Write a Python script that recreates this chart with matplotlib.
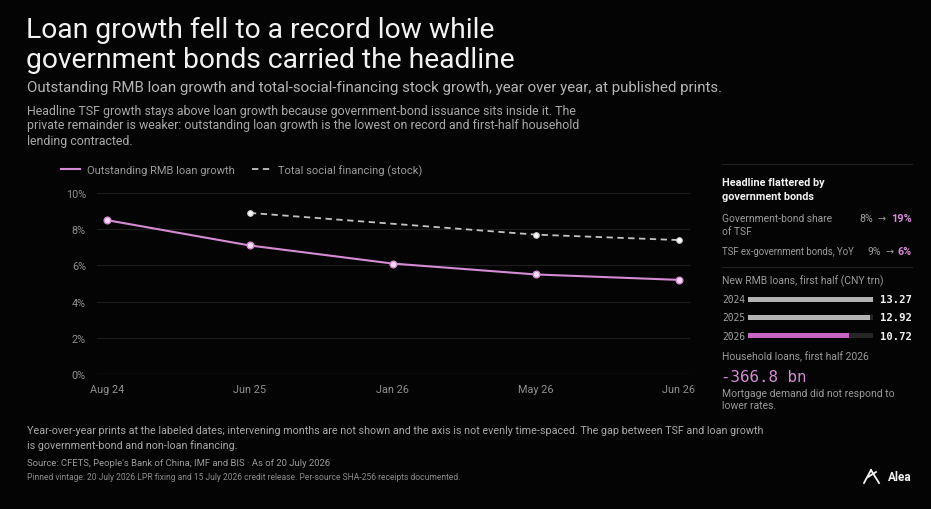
import matplotlib
matplotlib.use("Agg")
import matplotlib.pyplot as plt
from matplotlib.lines import Line2D
import numpy as np

# ---------------- data ----------------
dates = ["Aug 24", "Jun 25", "Jan 26", "May 26", "Jun 26"]
loan_growth = [8.5, 7.1, 6.1, 5.5, 5.2]
tsf_dates = ["Jun 25", "May 26", "Jun 26"]
tsf_growth = [8.9, 7.7, 7.4]
y_ticks = [0, 2, 4, 6, 8, 10]

bar_years = ["2024", "2025", "2026"]
new_loans = [13.27, 12.92, 10.72]

gov_share = ("8%", "19%")
tsf_ex_gov = ("9%", "6%")
household_loans = "-366.8 bn"

# ---------------- style ----------------
W, H = 931, 510
BG = "#040404"
PINK = "#d58bd4"
PINK_B = "#c665c3"
GRAY_TXT = "#9a9a9a"
WHITE = "#f2f2f2"
FONT = ["Roboto", "DejaVu Sans"]
MONO = ["DejaVu Sans Mono"]

plt.rcParams["font.family"] = FONT
fig = plt.figure(figsize=(W / 100, H / 100), dpi=100, facecolor=BG)


def fx(x):
    return x / W


def fy(y):
    return 1 - y / H


def T(x, y, s, size, color=WHITE, weight="normal", ha="left", va="center", family=None):
    fig.text(fx(x), fy(y), s, fontsize=size, color=color, weight=weight,
             ha=ha, va=va, family=family or FONT)


# ---------------- header ----------------
T(26, 30, "Loan growth fell to a record low while", 20.3, WHITE)
T(26, 60, "government bonds carried the headline", 20.3, WHITE)
T(27, 88, "Outstanding RMB loan growth and total-social-financing stock growth, year over year, at published prints.",
  10.8, "#b5b5b5")
T(27, 111, "Headline TSF growth stays above loan growth because government-bond issuance sits inside it. The", 8.9, "#a8a8a8")
T(27, 126, "private remainder is weaker: outstanding loan growth is the lowest on record and first-half household", 8.9, "#a8a8a8")
T(27, 141, "lending contracted.", 8.9, "#a8a8a8")

# ---------------- main chart ----------------
ax = fig.add_axes([fx(97), fy(375), fx(690) - fx(97), fy(194) - fy(375)])
ax.set_facecolor(BG)
x_loan = np.arange(len(dates))
x_tsf = [dates.index(d) for d in tsf_dates]

for t in y_ticks[1:]:
    ax.axhline(t, color="#1c1c1c", lw=0.8, zorder=0)
ax.axhline(0, color="#3a3a3a", lw=0.9, zorder=0)

ax.plot(x_loan, loan_growth, color=PINK, lw=1.5, marker="o", ms=4.8,
        mfc="#f5dcf4", mec=PINK, mew=1.0, zorder=3, label="Outstanding RMB loan growth")
ax.plot(x_tsf, tsf_growth, color="#c2c2c2", lw=1.3, dashes=(3.5, 2.5), marker="o", ms=4.0,
        mfc="#ffffff", mec="#d0d0d0", mew=0.8, zorder=2, label="Total social financing (stock)")

ax.set_xlim(-0.07, 4.08)
ax.set_ylim(0, 10)
ax.set_xticks(x_loan)
ax.set_xticklabels(dates)
ax.set_yticks(y_ticks)
ax.set_yticklabels([f"{t}%" for t in y_ticks])
ax.tick_params(axis="both", length=0, colors="#8f8f8f", labelsize=7.8)
ax.tick_params(axis="y", pad=8)
ax.tick_params(axis="x", pad=7)
for s in ax.spines.values():
    s.set_visible(False)

leg = fig.legend(handles=[Line2D([], [], color=PINK, lw=1.5),
                          Line2D([], [], color="#c2c2c2", lw=1.3, dashes=(3.5, 2.5))],
                 labels=["Outstanding RMB loan growth", "Total social financing (stock)"],
                 loc="center left", bbox_to_anchor=(fx(61), fy(171)), ncol=2, frameon=False,
                 fontsize=8.0, handlelength=1.7, handletextpad=0.6, columnspacing=1.6,
                 borderpad=0, borderaxespad=0)
for t in leg.get_texts():
    t.set_color("#9a9a9a")

# ---------------- sidebar ----------------
def sep(y):
    fig.add_artist(Line2D([fx(722), fx(912)], [fy(y), fy(y)], color="#232323", lw=0.8))


sep(165)
T(722, 183, "Headline flattered by", 7.8, WHITE, weight="bold")
T(722, 197, "government bonds", 7.8, WHITE, weight="bold")
T(722, 219, "Government-bond share", 7.4, GRAY_TXT)
T(722, 232, "of TSF", 7.4, GRAY_TXT)
T(873, 219, gov_share[0], 7.6, GRAY_TXT, ha="right")
T(882, 219, "→", 7.0, GRAY_TXT, ha="center")
T(912, 219, gov_share[1], 7.8, PINK, weight="bold", ha="right")
T(722, 252, "TSF ex-government bonds, YoY", 6.9, GRAY_TXT)
T(881, 252, tsf_ex_gov[0], 7.6, GRAY_TXT, ha="right")
T(890, 252, "→", 7.0, GRAY_TXT, ha="center")
T(912, 252, tsf_ex_gov[1], 7.8, PINK, weight="bold", ha="right")
sep(268)
T(722, 281, "New RMB loans, first half (CNY trn)", 7.5, GRAY_TXT)

bax = fig.add_axes([fx(748), fy(346), fx(873) - fx(748), fy(291) - fy(346)])
bax.set_facecolor("none")
ypos = np.arange(len(bar_years))
vmax = max(new_loans)
bax.barh(ypos, [vmax] * len(new_loans), height=0.26, color="#262626", zorder=1)
bar_cols = ["#b3b3b3", "#b3b3b3", PINK_B]
bax.barh(ypos, new_loans, height=0.26, color=bar_cols, zorder=2)
bax.set_xlim(0, vmax)
bax.set_ylim(len(bar_years) - 0.5, -0.5)
bax.axis("off")
for i, (yr, v) in enumerate(zip(bar_years, new_loans)):
    yy = [300, 318, 337][i]
    T(722, yy, yr, 6.9, "#a0a0a0", family=MONO)
    T(912, yy, f"{v:.2f}", 7.6, WHITE, weight="bold", ha="right", family=MONO)

T(722, 357, "Household loans, first half 2026", 7.5, GRAY_TXT)
T(721, 377, household_loans, 11.4, PINK, family=MONO)
T(722, 394, "Mortgage demand did not respond to", 7.5, GRAY_TXT)
T(722, 406, "lower rates.", 7.5, GRAY_TXT)

# ---------------- footer ----------------
T(27, 431, "Year-over-year prints at the labeled dates; intervening months are not shown and the axis is not evenly time-spaced. The gap between TSF and loan growth",
  7.75, "#a8a8a8")
T(27, 446, "is government-bond and non-loan financing.", 7.75, "#a8a8a8")
T(27, 464, "Source: CFETS, People's Bank of China, IMF and BIS · As of 20 July 2026", 6.8, "#9a9a9a")
T(27, 478, "Pinned vintage: 20 July 2026 LPR fixing and 15 July 2026 credit release. Per-source SHA-256 receipts documented.",
  6.15, "#8a8a8a")

# logo
for (x0, y0, x1, y1) in [(864, 484, 871, 471), (871, 471, 879, 484), (868, 478, 876, 473)]:
    fig.add_artist(Line2D([fx(x0), fx(x1)], [fy(y0), fy(y1)], color=WHITE, lw=1.3))
T(888, 478, "Alea", 8.5, WHITE, weight="bold")

fig.savefig("out.png", dpi=100, facecolor=BG)
